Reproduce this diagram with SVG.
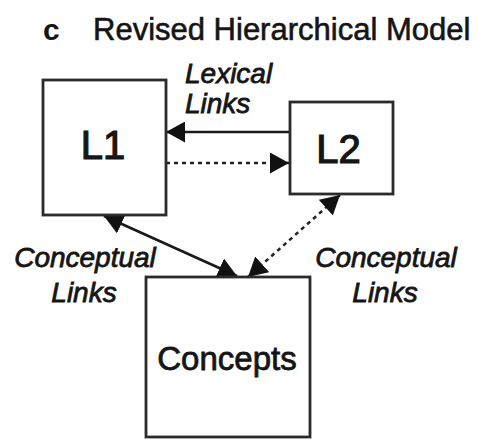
<svg xmlns="http://www.w3.org/2000/svg" width="478" height="439" viewBox="0 0 478 439">
<style>
  .box { fill: #fff; stroke: #2b2b2b; stroke-width: 2.8; }
  .lbl { font-family: "Liberation Sans", Arial, sans-serif; fill: #151515; }
  .node { font-size: 40px; text-anchor: middle; stroke: #151515; stroke-width: 1.2; }
  .link { font-size: 28px; font-style: italic; stroke: #151515; stroke-width: 0.8; }
  .solid { stroke: #1a1a1a; stroke-width: 2.6; fill: none; }
  .dotted { stroke: #222; stroke-width: 2.5; fill: none; stroke-dasharray: 4 4; }
</style>
<defs>
  <marker id="ah" viewBox="0 0 19 21" refX="19" refY="10.5" markerWidth="19" markerHeight="21" markerUnits="userSpaceOnUse" orient="auto-start-reverse">
    <path d="M0,0 L19,10.5 L0,21 Z" fill="#111"/>
  </marker>
</defs>
<rect width="478" height="439" fill="#fff"/>
<g id="title">
  <text class="lbl" x="43" y="40" font-size="30" font-weight="bold">c</text>
  <text class="lbl" x="93" y="40" font-size="31" stroke="#151515" stroke-width="0.6">Revised Hierarchical Model</text>
</g>
<g id="connectors">
  <line class="solid" x1="290" y1="132" x2="166" y2="132" marker-end="url(#ah)"/>
  <line class="dotted" x1="166" y1="163" x2="289" y2="163" marker-end="url(#ah)"/>
  <line class="solid" x1="104" y1="216" x2="237" y2="276" marker-start="url(#ah)" marker-end="url(#ah)"/>
  <line class="dotted" x1="340" y1="195" x2="248" y2="277" marker-start="url(#ah)" marker-end="url(#ah)"/>
</g>
<g id="L1">
  <rect class="box" x="43" y="80" width="123" height="135"/>
  <text class="lbl node" x="103" y="159">L1</text>
</g>
<g id="L2">
  <rect class="box" x="290" y="102" width="103" height="92"/>
  <text class="lbl node" x="338.5" y="163">L2</text>
</g>
<g id="Concepts">
  <rect class="box" x="146" y="277" width="164" height="160"/>
  <text class="lbl" x="227" y="370" font-size="33" text-anchor="middle" stroke="#151515" stroke-width="0.8">Concepts</text>
</g>
<g id="labels">
  <text class="lbl link" x="185" y="83">Lexical</text>
  <text class="lbl link" x="185" y="113">Links</text>
  <text class="lbl link" x="85" y="267" text-anchor="middle">Conceptual</text>
  <text class="lbl link" x="84" y="302" text-anchor="middle">Links</text>
  <text class="lbl link" x="386" y="267" text-anchor="middle">Conceptual</text>
  <text class="lbl link" x="385" y="302" text-anchor="middle">Links</text>
</g>
</svg>
